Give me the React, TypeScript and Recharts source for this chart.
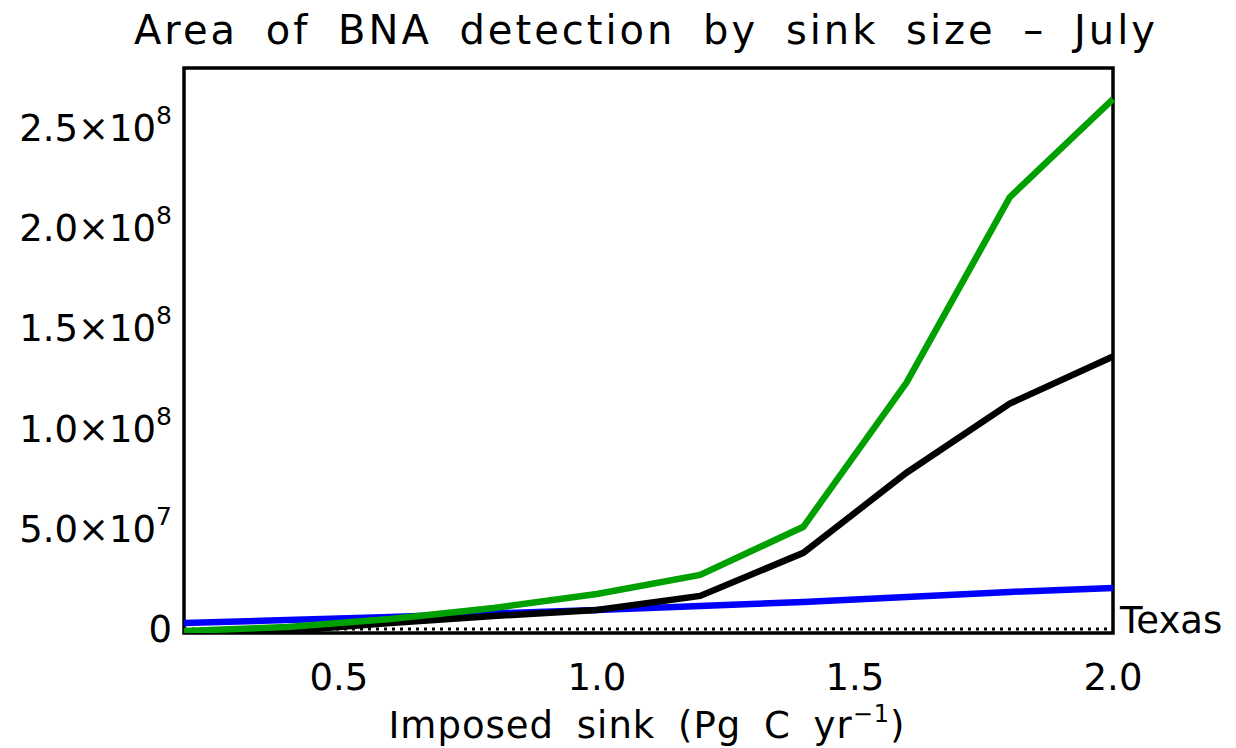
import React from 'react';
import { LineChart, Line, XAxis, YAxis, ReferenceLine, ReferenceArea } from 'recharts';

const sinkSize = [0.2, 0.4, 0.6, 0.8, 1.0, 1.2, 1.4, 1.6, 1.8, 2.0];
const greenSeries = [-1.0e6, 1.0e6, 5.0e6, 1.05e7, 1.75e7, 2.7e7, 5.1e7, 1.23e8, 2.155e8, 2.645e8];
const blackSeries = [-5.0e6, -1.0e6, 3.0e6, 6.5e6, 9.5e6, 1.65e7, 3.8e7, 7.8e7, 1.125e8, 1.36e8];
const blueSeries = [3.0e6, 4.5e6, 6.0e6, 7.8e6, 9.5e6, 1.15e7, 1.35e7, 1.6e7, 1.85e7, 2.05e7];
const xTicks = [0.5, 1.0, 1.5, 2.0];
const yTicks = [0, 5e7, 1e8, 1.5e8, 2e8, 2.5e8];
const yTickLabels: Record<number, [string, string]> = {
  0: ['0', ''],
  50000000: ['5.0×10', '7'],
  100000000: ['1.0×10', '8'],
  150000000: ['1.5×10', '8'],
  200000000: ['2.0×10', '8'],
  250000000: ['2.5×10', '8'],
};
const titleText = 'Area of BNA detection by sink size – July';
const regionLabel = 'Texas';

const data = sinkSize.map((s, i) => ({ s, green: greenSeries[i], black: blackSeries[i], blue: blueSeries[i] }));

const FONT = '"DejaVu Sans", sans-serif';

const YTick = (props: any) => {
  const { y, payload } = props;
  const [base, sup] = yTickLabels[payload.value] || [String(payload.value), ''];
  return (
    <text x={172} y={y + 13} textAnchor="end" fontFamily={FONT} fontSize={37} fill="#000">
      {base}
      {sup ? <tspan dy={-17} fontSize={25}>{sup}</tspan> : null}
    </text>
  );
};

const XTick = (props: any) => {
  const { x, payload } = props;
  return (
    <text x={x} y={690} textAnchor="middle" fontFamily={FONT} fontSize={37} fill="#000">
      {payload.value.toFixed(1)}
    </text>
  );
};

export default function App() {
  return (
    <div style={{ position: 'absolute', left: 0, top: 0, width: 1236, height: 748, background: '#fff' }}>
      <LineChart width={1236} height={748} data={data} margin={{ top: 68, right: 123, bottom: 0, left: 0 }}>
        <XAxis
          dataKey="s"
          type="number"
          domain={[0.2, 2.0]}
          ticks={xTicks}
          tick={<XTick />}
          tickLine={false}
          axisLine={false}
          height={115}
          interval={0}
        />
        <YAxis
          type="number"
          domain={[-2e6, 2.8e8]}
          ticks={yTicks}
          tick={<YTick />}
          tickLine={false}
          axisLine={false}
          width={184}
          allowDataOverflow
          interval={0}
        />
        <ReferenceLine
          y={0}
          stroke="#000"
          strokeWidth={3}
          strokeDasharray="3 5"
          label={{ value: regionLabel, position: 'right', fontFamily: FONT, fontSize: 37, fill: '#000', dy: -9, dx: 2 }}
        />
        <Line type="linear" dataKey="blue" stroke="#0000ff" strokeWidth={6.5} dot={false} isAnimationActive={false} />
        <Line type="linear" dataKey="black" stroke="#000000" strokeWidth={6.5} dot={false} isAnimationActive={false} />
        <Line type="linear" dataKey="green" stroke="#00a000" strokeWidth={6.5} dot={false} isAnimationActive={false} />
        <ReferenceArea x1={0.2} x2={2.0} y1={-2e6} y2={2.8e8} fill="none" stroke="#000" strokeWidth={3.5} ifOverflow="visible" />
      </LineChart>
      <svg width={1236} height={748} style={{ position: 'absolute', left: 0, top: 0, pointerEvents: 'none' }}>
        <text x={646} y={44} textAnchor="middle" fontFamily={FONT} fontSize={40} letterSpacing={3} wordSpacing={12} fill="#000">
          {titleText}
        </text>
        <text x={647} y={738} textAnchor="middle" fontFamily={FONT} fontSize={37} letterSpacing={1} wordSpacing={10} fill="#000">
          Imposed sink (Pg C yr<tspan dy={-16} fontSize={24}>−1</tspan><tspan dy={16}>)</tspan>
        </text>
      </svg>
    </div>
  );
}
